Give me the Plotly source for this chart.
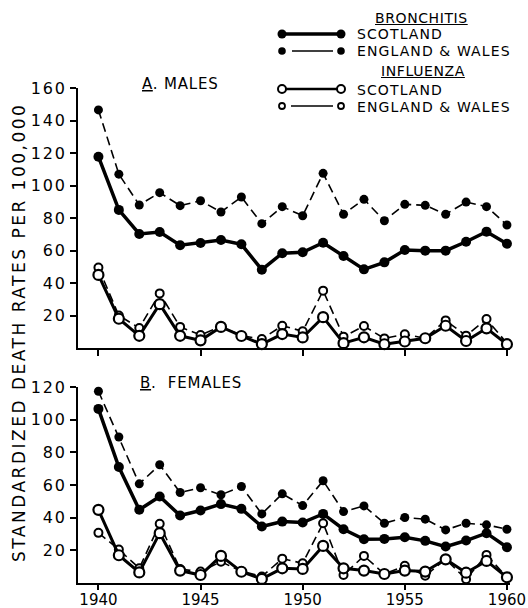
import plotly.graph_objects as go

years = list(range(1940, 1961))

# Males (A)
m_bron_sco = [117.7, 85, 70.2, 71.4, 63.2, 64.6, 66.5, 63.8, 48.2, 58.3, 58.9, 64.8, 56.6, 48.4, 52.7, 60.3, 59.9, 59.9, 65.4, 71.6, 64.2]
m_bron_ew = [146.5, 107, 88, 95.6, 87.6, 90.6, 83.7, 92.9, 76.5, 87, 81.4, 107.5, 82.3, 91.5, 78.3, 88.4, 87.8, 82.3, 89.8, 87, 75.7]
m_flu_sco = [45, 18, 7.5, 27, 7.5, 4.7, 13, 7.4, 2.4, 8.6, 6.5, 19, 3, 6.6, 2.3, 4, 6, 13.7, 4.3, 12.1, 2.3]
m_flu_ew = [49.5, 20, 12.3, 33.6, 13, 8, 13.2, 7.6, 5.5, 13.7, 10.3, 35.3, 7, 13.5, 5.9, 8.4, 6, 17, 7.6, 17.8, 2.9]

# Females (B)
f_bron_sco = [106.6, 71, 44.8, 53, 41.3, 44.4, 48.3, 45.4, 34.6, 37.6, 37, 42.3, 32.9, 26.8, 27, 28, 25.8, 22.3, 26, 30.5, 21.9]
f_bron_ew = [117.4, 89.4, 60.7, 72.4, 55.4, 58.3, 54, 59.1, 42.3, 54.6, 47.4, 62.6, 43.7, 47.2, 36.6, 40.1, 39.1, 32.5, 36.6, 35.6, 32.9]
f_flu_sco = [44.8, 17, 6.5, 30.5, 7.6, 4.9, 16.6, 6.9, 2.5, 9, 8.6, 22.7, 9, 7.6, 5.5, 7.6, 7, 14.5, 6.3, 13.5, 3.5]
f_flu_ew = [30.7, 20.5, 9, 36.2, 8.5, 7, 13, 7.2, 4, 14.9, 12.1, 36.6, 4.9, 16.6, 5.5, 10.5, 4.5, 14.5, 2.3, 17.2, 3.5]

x_tickvals = [1940, 1945, 1950, 1955, 1960]
x_ticktext = ["1940", "1945", "1950", "1955", "1960"]
ym_tickvals = [20, 40, 60, 80, 100, 120, 140, 160]
ym_ticktext = ["20", "40", "60", "80", "100", "120", "140", "160"]
yf_tickvals = [20, 40, 60, 80, 100, 120]
yf_ticktext = ["20", "40", "60", "80", "100", "120"]

FONT = "DejaVu Sans"
W, H = 528, 608
ML, MR, MT, MB = 78, 18, 88, 25
PW = W - ML - MR
PH = H - MT - MB


def px(x):
    return (x - ML) / PW


def py(y):
    return (H - MB - y) / PH


def spaced(t, s):
    return '<span style="letter-spacing:%spx">%s</span>' % (s, t)


fig = go.Figure()


def add_series(xa, ya, vals, kind):
    if kind == "bron_sco":
        line = dict(color="black", width=3.5)
        marker = dict(size=10, color="black", symbol="circle")
    elif kind == "bron_ew":
        line = dict(color="black", width=1.6, dash="9px,5px")
        marker = dict(size=9, color="black", symbol="circle")
    elif kind == "flu_sco":
        line = dict(color="black", width=3)
        marker = dict(size=10, color="white", symbol="circle", line=dict(color="black", width=2.2))
    else:
        line = dict(color="black", width=1.6, dash="9px,5px")
        marker = dict(size=8, color="white", symbol="circle", line=dict(color="black", width=2))
    fig.add_trace(go.Scatter(x=years, y=vals, mode="lines+markers", line=line, marker=marker,
                             xaxis=xa, yaxis=ya, showlegend=False, cliponaxis=False))


for xa, ya, data in [("x", "y", [m_flu_ew, m_flu_sco, m_bron_ew, m_bron_sco]),
                     ("x2", "y2", [f_flu_ew, f_flu_sco, f_bron_ew, f_bron_sco])]:
    for vals, kind in zip(data, ["flu_ew", "flu_sco", "bron_ew", "bron_sco"]):
        add_series(xa, ya, vals, kind)

top_dom = [py(348), py(88)]
bot_dom = [py(583), py(387)]

axis_common = dict(showgrid=False, zeroline=False, showline=True, linecolor="black", linewidth=2,
                   ticks="outside", tickcolor="black", tickwidth=2, ticklen=6, automargin=False,
                   tickfont=dict(family=FONT, size=16, color="black"))

fig.update_layout(
    width=W, height=H,
    margin=dict(l=ML, r=MR, t=MT, b=MB, autoexpand=False),
    paper_bgcolor="white", plot_bgcolor="white",
    xaxis=dict(axis_common, range=[1939, 1960.15], domain=[0, 1], anchor="y",
               tickvals=x_tickvals, showticklabels=False),
    yaxis=dict(axis_common, range=[0, 160], domain=top_dom, anchor="x", tickvals=ym_tickvals,
               ticktext=[spaced(t, 1.8) for t in ym_ticktext]),
    xaxis2=dict(axis_common, range=[1939, 1960.15], domain=[0, 1], anchor="y2",
                tickvals=x_tickvals, ticktext=x_ticktext, ticklen=5, ticklabelstandoff=-3,
                tickfont=dict(family=FONT, size=15, color="black")),
    yaxis2=dict(axis_common, range=[0, 120], domain=bot_dom, anchor="x2", tickvals=yf_tickvals,
                ticktext=[spaced(t, 1.8) for t in yf_ticktext]),
    showlegend=False,
)

ann = []
txt_font = dict(family=FONT, size=15, color="black")
leg_font = dict(family=FONT, size=14, color="black")
ann.append(dict(text=spaced("STANDARDIZED DEATH RATES PER 100,000", 2.5),
                x=px(19), y=py(333), xref="paper", yref="paper", textangle=-90,
                showarrow=False, xanchor="center", yanchor="middle",
                font=dict(family=FONT, size=17, color="black")))
ann.append(dict(text=spaced("<u>A</u>. MALES", 0.8), x=px(140), y=py(84), xref="paper", yref="paper",
                showarrow=False, xanchor="left", yanchor="middle", font=txt_font))
ann.append(dict(text=spaced("<u>B</u>.  FEMALES", 0.8), x=px(138), y=py(383), xref="paper", yref="paper",
                showarrow=False, xanchor="left", yanchor="middle", font=txt_font))
ann.append(dict(text=spaced("<u>BRONCHITIS</u>", 0.6), x=px(421), y=py(18), xref="paper", yref="paper",
                showarrow=False, xanchor="center", yanchor="middle", font=leg_font, height=14))
ann.append(dict(text=spaced("<u>INFLUENZA</u>", 0.6), x=px(423), y=py(71), xref="paper", yref="paper",
                showarrow=False, xanchor="center", yanchor="middle", font=leg_font, height=14))

legend_rows = [(34, "bron_sco", "SCOTLAND"), (51, "bron_ew", "ENGLAND &amp; WALES"),
               (89, "flu_sco", "SCOTLAND"), (106, "flu_ew", "ENGLAND &amp; WALES")]
shapes = []
LX0, LX1 = 282, 341


def circle(cx, cy, r, fill, lw):
    return dict(type="circle", xref="paper", yref="paper",
                x0=px(cx - r), x1=px(cx + r), y0=py(cy + r), y1=py(cy - r),
                fillcolor=fill, line=dict(color="black", width=lw))


for yy, kind, label in legend_rows:
    if kind == "bron_sco":
        shapes.append(dict(type="line", xref="paper", yref="paper", x0=px(LX0), x1=px(LX1),
                           y0=py(yy), y1=py(yy), line=dict(color="black", width=3.5)))
        shapes += [circle(LX0, yy, 4.5, "black", 0), circle(LX1, yy, 4.5, "black", 0)]
    elif kind == "bron_ew":
        shapes.append(dict(type="line", xref="paper", yref="paper", x0=px(LX0 + 10), x1=px(LX1 - 8),
                           y0=py(yy), y1=py(yy), line=dict(color="black", width=1.6)))
        shapes += [circle(LX0, yy, 3.8, "black", 0), circle(LX1, yy, 3.8, "black", 0)]
    elif kind == "flu_sco":
        shapes.append(dict(type="line", xref="paper", yref="paper", x0=px(LX0), x1=px(LX1),
                           y0=py(yy), y1=py(yy), line=dict(color="black", width=2.5)))
        shapes += [circle(LX0, yy, 4, "white", 2), circle(LX1, yy, 4, "white", 2)]
    else:
        shapes.append(dict(type="line", xref="paper", yref="paper", x0=px(LX0 + 9), x1=px(LX1 - 8),
                           y0=py(yy), y1=py(yy), line=dict(color="black", width=1.6)))
        shapes += [circle(LX0, yy, 3, "white", 1.8), circle(LX1, yy, 3, "white", 1.8)]
    ann.append(dict(text=spaced(label, 1.1), x=px(356), y=py(yy), xref="paper", yref="paper",
                    showarrow=False, xanchor="left", yanchor="middle", font=leg_font,
                    height=13, borderpad=0))

fig.update_layout(annotations=ann, shapes=shapes)
fig.write_html("out.html")
